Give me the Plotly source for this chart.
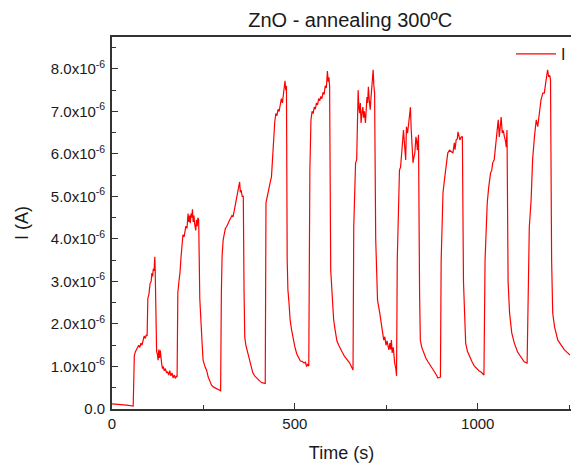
import plotly.graph_objects as go
import numpy as np

# Time (s)
time_s = [0, 20, 40, 58,
    61, 64, 69, 73, 76, 79, 82, 85, 88, 91, 94, 96, 98, 101, 104, 107, 109, 111, 113, 115, 117, 118,
    120, 122, 124, 126, 128, 130, 132, 134, 136, 138, 140, 143, 146, 149, 152, 155, 158, 161, 164, 167, 170, 173, 176, 178,
    180, 183, 186, 189, 191, 194, 197, 199, 202, 205, 208, 210, 212, 214, 216, 218, 220, 222, 224, 226, 229, 231, 233, 235, 237,
    240, 243, 246, 249, 252, 255, 259, 263, 268, 272, 277, 282, 287, 292, 297,
    299, 301, 304, 307, 310, 313, 316, 319, 322, 325, 328, 331, 334, 337, 340, 343, 346, 349, 351, 353, 356, 359,
    361, 363, 366, 369, 372, 375, 378, 381, 385, 390, 395, 400, 405, 410, 415, 419,
    421, 424, 427, 430, 433, 436, 439, 442, 445, 448, 451, 454, 457, 460, 463, 466, 469, 471, 473, 475, 477,
    479, 481, 484, 487, 491, 495, 500, 505, 510, 515, 520, 525, 529, 532, 535, 538,
    541, 544, 547, 550, 553, 556, 559, 562, 565, 568, 571, 574, 577, 580, 583, 586, 589, 591, 593, 595,
    598, 602, 606, 610, 615, 620, 625, 630, 635, 640, 645, 650, 655, 659,
    661, 664, 666, 669, 671, 673, 675, 677, 679, 681, 684, 686, 688, 690, 693, 695, 697, 699, 701, 703, 706, 708, 710, 712, 714, 716, 718,
    721, 723, 726, 732, 739, 743, 746, 749, 752, 755, 757, 760, 762, 764, 766, 769, 771, 773, 776, 778,
    780, 782, 786, 789, 791, 794, 797, 800, 803, 805, 808, 811, 814, 816, 818, 820, 823, 825, 828, 831, 833, 835, 838,
    841, 843, 847, 852, 858, 864, 870, 876, 882, 887, 891, 895, 898,
    900, 903, 905, 909, 914, 918, 923, 927, 932, 936, 938, 941, 944, 946, 948, 951, 955, 958,
    961, 964, 967, 972, 978, 985, 990, 996, 1003, 1009, 1014, 1017,
    1020, 1023, 1026, 1030, 1035, 1038, 1041, 1045, 1048, 1051, 1053, 1056, 1059, 1061, 1064, 1067, 1070, 1073, 1076, 1078, 1080,
    1083, 1087, 1093, 1100, 1109, 1119, 1127, 1135,
    1139, 1141, 1146, 1150, 1155, 1160, 1164, 1169, 1173, 1178, 1182, 1187, 1191, 1194, 1197, 1199,
    1202, 1205, 1210, 1219, 1228, 1237, 1246, 1252]

# Current in units of 1e-6 A
current_uA = [0.12, 0.11, 0.09, 0.07,
    1.25, 1.35, 1.43, 1.5, 1.45, 1.55, 1.5, 1.62, 1.72, 1.66, 1.75, 1.72, 2.6, 2.7, 2.95, 3.0, 3.2, 3.12, 3.3, 3.25, 3.58, 3.3,
    1.6, 1.35, 1.3, 1.15, 1.4, 1.2, 1.38, 1.1, 1.05, 0.95, 1.0, 0.9, 0.95, 0.85, 0.88, 0.8, 0.9, 0.78, 0.85, 0.73, 0.8, 0.72, 0.78, 0.75,
    2.73, 3.0, 3.22, 3.6, 3.9, 4.1, 4.05, 4.2, 4.3, 4.25, 4.6, 4.4, 4.55, 4.37, 4.6, 4.5, 4.7, 4.4, 4.55, 4.35, 4.2, 4.45, 4.3, 4.5, 4.45,
    2.6, 1.9, 1.6, 1.15, 1.05, 0.98, 0.9, 0.75, 0.65, 0.56, 0.52, 0.5, 0.48, 0.45, 0.43,
    2.73, 3.6, 3.98, 4.15, 4.25, 4.28, 4.35, 4.4, 4.45, 4.5, 4.55, 4.52, 4.65, 4.8, 4.95, 5.1, 5.2, 5.34, 5.1, 5.15, 5.0, 5.0,
    2.8, 1.69, 1.5, 1.4, 1.32, 1.15, 1.05, 0.99, 0.85, 0.78, 0.73, 0.68, 0.65, 0.62, 0.6, 0.6,
    4.85, 5.0, 5.1, 5.22, 5.35, 5.46, 6.0, 6.55, 6.75, 6.95, 6.9, 7.05, 7.0, 7.15, 7.3, 7.2, 7.4, 7.55, 7.72, 7.5, 7.6,
    3.5, 2.8, 2.49, 2.1, 1.86, 1.65, 1.46, 1.3, 1.2, 1.13, 1.12, 1.08, 1.1, 1.0, 1.05, 1.01,
    5.6, 6.8, 7.0, 6.95, 7.1, 7.05, 7.2, 7.15, 7.3, 7.25, 7.35, 7.3, 7.45, 7.4, 7.6, 7.55, 7.95, 7.7, 7.8, 7.6,
    3.27, 2.49, 2.1, 1.86, 1.6, 1.5, 1.4, 1.33, 1.25, 1.2, 1.15, 1.08, 0.99, 0.92,
    4.28, 5.3, 5.79, 5.86, 6.5, 7.5, 7.1, 6.96, 7.2, 6.73, 7.0, 7.1, 6.85, 7.0, 6.73, 7.1, 7.34, 7.2, 7.58, 7.3, 7.04, 7.3, 7.5, 7.6, 7.98, 7.6, 7.43,
    4.0, 3.1, 2.56, 2.26, 1.79, 1.62, 1.7, 1.5, 1.6, 1.45, 1.39, 1.55, 1.4, 1.62, 1.32, 1.45, 1.2, 1.08, 0.95, 0.78,
    3.5, 4.28, 5.62, 5.69, 5.93, 6.1, 6.56, 6.2, 5.86, 6.64, 6.49, 6.7, 6.9, 7.1, 6.6, 6.09, 5.79, 5.9, 6.02, 6.4, 6.3, 6.09, 6.45,
    2.73, 1.62, 1.45, 1.32, 1.2, 1.11, 1.02, 0.95, 0.87, 0.8, 0.73, 0.74, 0.75,
    3.5, 4.6, 5.08, 5.39, 5.79, 6.02, 6.09, 6.05, 6.02, 6.26, 6.1, 6.33, 6.35, 6.52, 6.45, 6.33, 6.4, 6.4,
    3.0, 1.93, 1.55, 1.35, 1.22, 1.1, 1.02, 0.96, 0.9, 0.87, 0.82, 0.8,
    3.5, 4.4, 4.85, 5.22, 5.55, 5.6, 5.79, 5.86, 6.16, 6.3, 6.64, 6.8, 6.4, 6.6, 6.87, 6.49, 6.55, 6.4, 6.3, 6.16, 6.56,
    3.0, 2.26, 1.79, 1.55, 1.34, 1.22, 1.11, 1.08,
    3.0, 4.28, 4.92, 5.86, 6.4, 6.8, 6.64, 7.04, 7.27, 7.43, 7.43, 7.74, 7.98, 7.81, 7.85, 7.74,
    3.5, 2.26, 1.93, 1.62, 1.51, 1.39, 1.32, 1.27]

y_tick_vals = [0, 1e-6, 2e-6, 3e-6, 4e-6, 5e-6, 6e-6, 7e-6, 8e-6]
y_tick_text = ["0.0"] + ["%d.0x10<sup>-6</sup>" % k for k in range(1, 9)]
x_tick_vals = [0, 500, 1000]

current_A = np.array(current_uA) * 1e-6

font_family = "Arial, Liberation Sans, sans-serif"
axis_color = "#333333"

fig = go.Figure()
fig.add_trace(go.Scatter(
    x=time_s, y=current_A, mode="lines", name="I",
    line=dict(color="#ff0000", width=1.2),
))

fig.update_layout(
    width=571, height=469,
    margin=dict(l=112, r=0, t=37, b=60),
    paper_bgcolor="white", plot_bgcolor="white",
    font=dict(family=font_family, color="#1a1a1a", size=15),
    title=dict(text="ZnO - annealing 300ºC", x=0.519, xref="paper", xanchor="center",
               y=0.958, yref="container", yanchor="middle",
               font=dict(size=20, family=font_family, color="#1a1a1a")),
    showlegend=True,
    legend=dict(x=1.0, xanchor="right", y=1.0, yanchor="top",
                bgcolor="rgba(0,0,0,0)", font=dict(size=16),
                itemwidth=40),
)

fig.update_xaxes(
    range=[0, 1255], tickvals=x_tick_vals, ticktext=[str(v) for v in x_tick_vals],
    ticks="inside", ticklen=6, tickwidth=1.3, tickcolor=axis_color,
    showline=True, linecolor=axis_color, linewidth=1.6, mirror=True,
    showgrid=False, zeroline=False,
    minor=dict(tickvals=[250, 750, 1250], ticks="inside", ticklen=4, tickwidth=1.3, tickcolor=axis_color),
    title=dict(text="Time (s)", font=dict(size=18), standoff=16),
    tickfont=dict(size=15),
)
fig.update_yaxes(
    range=[0, 8.75e-6], tickvals=y_tick_vals, ticktext=y_tick_text,
    ticks="inside", ticklen=6, tickwidth=1.3, tickcolor=axis_color,
    showline=True, linecolor=axis_color, linewidth=1.6,
    showgrid=False, zeroline=False,
    minor=dict(tickvals=[0.5e-6 + k * 1e-6 for k in range(9)], ticks="inside", ticklen=4, tickwidth=1.3, tickcolor=axis_color),
    title=dict(text="I (A)", font=dict(size=18), standoff=18),
    tickfont=dict(size=15),
    ticklabelstandoff=2,
)

fig.write_html("out.html")
